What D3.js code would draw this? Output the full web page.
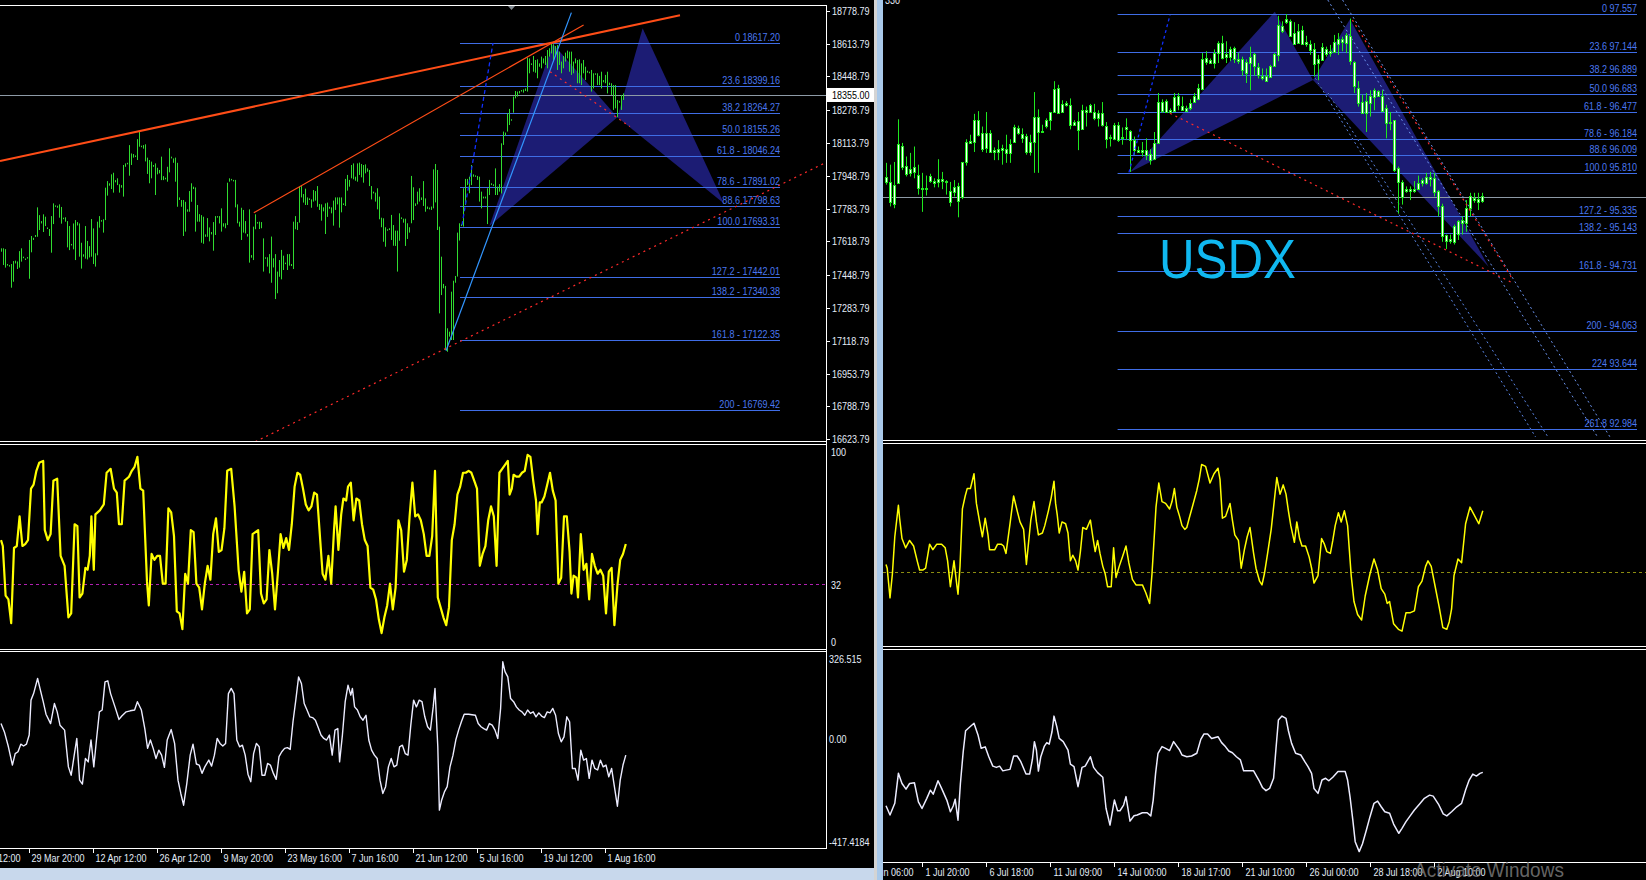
<!DOCTYPE html>
<html><head><meta charset="utf-8">
<script src="https://cdn.jsdelivr.net/npm/d3@7"></script>
<style>
html,body{margin:0;padding:0;background:#000;overflow:hidden;}
svg{display:block;}
text{font-family:"Liberation Sans",Arial,sans-serif;}
</style></head><body>
<svg id="c" width="1646" height="880"></svg>
<script>
// ---------------- LEFT CHART DATA (bar index, prices) ----------------
const leftHigh = [17584,17584,17580,17505,17500,17505,17520,17522,17518,17570,
17584,17542,17533,17540,17626,17646,17637,17651,17790,17751,
17721,17755,17743,17689,17681,17746,17810,17800,17798,17805,
17792,17738,17740,17721,17696,17606,17709,17726,17716,17709,
17612,17554,17696,17621,17595,17731,17684,17559,17718,17746,
17726,17730,17889,17922,17911,17956,17964,17927,17936,17906,
17902,18003,18011,18014,18103,18061,18058,18051,18133,18170,
18100,18103,18107,18040,18028,18020,18003,18011,17989,17978,
18045,17947,17939,17994,18087,18045,18036,18040,18014,17840,
17827,17827,17818,17780,17872,17911,17894,17890,17802,17756,
17751,17743,17654,17736,17689,17666,17716,17746,17746,17746,
17785,17710,17710,17914,17936,17933,17928,17928,17805,17718,
17788,17777,17721,17656,17780,17550,17693,17755,17716,17718,
17716,17634,17539,17539,17555,17643,17534,17555,17467,17525,
17576,17547,17512,17555,17555,17505,17718,17746,17716,17894,
17897,17857,17884,17840,17835,17830,17877,17872,17897,17807,
17805,17790,17810,17814,17793,17790,17824,17840,17840,17840,
17840,17810,17933,17953,17928,18003,18011,17944,18011,18015,
18008,18003,18006,17986,17978,17897,17869,17864,17886,17844,
17738,17735,17690,17680,17685,17752,17701,17673,17673,17760,
17740,17733,17733,17710,17690,17948,17891,17810,17869,17886,
17840,17922,17835,17794,17789,17794,17981,18008,17978,17693,
17542,17405,17395,17182,17165,17366,17421,17445,17663,17710,
17705,17886,17933,17933,17944,18003,17956,17951,17948,17944,
17869,17844,17844,17886,17928,17911,17906,17986,17894,17907,
18112,18171,18166,18263,18285,18233,18347,18375,18372,18375,
18380,18383,18388,18543,18539,18514,18551,18531,18534,18514,
18548,18539,18551,18581,18590,18617,18610,18601,18606,18573,
18523,18551,18568,18578,18573,18573,18523,18539,18531,18534,
18514,18531,18497,18477,18472,18481,18464,18464,18464,18451,
18472,18430,18456,18472,18417,18414,18405,18405,18330,18325,
18355,18363];
const leftLow = [17567,17500,17487,17497,17492,17386,17416,17508,17480,17487,
17517,17535,17527,17533,17431,17564,17626,17641,17642,17676,
17709,17666,17696,17681,17646,17562,17706,17793,17788,17738,
17708,17731,17718,17589,17575,17601,17579,17525,17699,17542,
17482,17542,17532,17528,17538,17542,17505,17492,17549,17688,
17718,17663,17726,17849,17899,17882,17864,17916,17902,17864,
17889,17844,17994,18009,17949,18003,18040,18043,18028,18095,
18095,18085,18021,17958,17911,17936,17994,17852,17956,17961,
17927,17927,17931,17919,17966,18036,18014,17919,17793,17827,
17793,17646,17668,17768,17768,17818,17882,17668,17718,17718,
17612,17607,17642,17642,17619,17654,17572,17651,17741,17709,
17668,17693,17685,17701,17919,17928,17922,17790,17710,17693,
17626,17663,17659,17643,17512,17537,17525,17680,17710,17681,
17685,17467,17534,17492,17458,17411,17488,17329,17358,17441,
17428,17475,17505,17475,17497,17495,17480,17680,17676,17713,
17840,17814,17802,17802,17827,17788,17819,17824,17793,17777,
17723,17770,17656,17742,17783,17760,17698,17777,17805,17688,
17765,17802,17797,17874,17894,17936,17931,17924,17919,17953,
17941,17914,17961,17969,17897,17830,17860,17819,17780,17730,
17690,17617,17592,17673,17676,17626,17597,17596,17467,17622,
17731,17713,17596,17631,17663,17710,17726,17797,17805,17819,
17827,17797,17768,17782,17780,17777,17785,17815,17676,17257,
17349,17383,17073,17064,17140,17123,17123,17411,17442,17623,
17696,17693,17802,17902,17861,17902,17944,17944,17928,17819,
17785,17835,17835,17706,17852,17902,17897,17852,17852,17869,
17860,18104,18149,18171,18204,18226,18266,18338,18347,18363,
18372,18367,18375,18372,18464,18506,18472,18467,18439,18497,
18489,18514,18506,18489,18548,18564,18523,18548,18481,18506,
18464,18489,18523,18539,18472,18456,18464,18514,18414,18414,
18405,18464,18430,18467,18464,18372,18388,18459,18405,18405,
18388,18419,18414,18363,18405,18355,18280,18288,18243,18316,
18280,18330];
const leftPriceTicks = [18778.79,18613.79,18448.79,18278.79,18113.79,17948.79,17783.79,17618.79,17448.79,17283.79,17118.79,16953.79,16788.79,16623.79];
const leftCurrentPrice = 18355.00;
const leftFibPrices = [18617.20,18399.16,18264.27,18155.26,18046.24,17891.02,17798.63,17693.31,17442.01,17340.38,17122.35,16769.42];
const leftFibLabels = ["0 18617.20","23.6 18399.16","38.2 18264.27","50.0 18155.26","61.8 - 18046.24","78.6 - 17891.02","88.6 17798.63","100.0 17693.31","127.2 - 17442.01","138.2 - 17340.38","161.8 -  17122.35","200 - 16769.42"];
const leftFibRange = [229.5, 389.5];
const leftTimeLabels = ["15 Mar 12:00","29 Mar 20:00","12 Apr 12:00","26 Apr 12:00","9 May 20:00","23 May 16:00","7 Jun 16:00","21 Jun 12:00","5 Jul 16:00","19 Jul 12:00","1 Aug 16:00"];
const leftTimeIdx = [-18,14,46,78,110,142,174,206,238,270,302];
// trendlines [[barIdx, price],[barIdx, price]]
const leftOrange1 = [[-0.5,18023],[339.5,18756]];
const leftOrange2 = [[126.4,17763],[291.3,18707]];
const leftRedDot1 = [[127.2,16612],[412.5,18016]];
const leftRedDot2 = [[274.5,18472],[314.5,18196]];
const leftBlueLine = [[222.5,17069],[285.2,18769]];
const leftBlueDash = [[230.5,17701],[246,18616]];
const leftPatternXAB = [[244.2,17696],[276,18611],[308.2,18243]];
const leftPatternBCD = [[308.2,18243],[320.8,18690],[361.5,17810]];
const leftStochLevel = 32;
const leftStoch = [[0,54],[0.9,51],[2.3,26],[3.7,24],[5.1,12],[6.5,50],[7.9,51],[9.3,66],[10.7,51],[12.1,52],[13.5,54],[15,80],[16.3,82],[17.7,89],[19.1,93],[21.1,94],[21.9,59],[23.4,54],[24.8,57],[26.2,84],[28.1,85],[29.8,46],[31.8,41],[33.7,15],[35.1,17],[36.8,62],[38.2,61],[39.3,25],[40.7,27],[42.2,40],[43.3,39],[44.4,46],[45.2,66],[46.4,39],[47.2,67],[49.4,69],[51.4,72],[52.8,88],[54.8,90],[56.5,80],[57.9,78],[59,62],[60.4,62],[61.8,84],[64,86],[65.4,89],[66.8,91],[68.2,96],[69.7,80],[71.1,79],[73,33],[73.9,21],[75.3,47],[76.7,44],[78.1,46],[79.5,46],[80.9,32],[82.3,32],[83.7,70],[85.1,68],[86.5,56],[87.9,18],[89.3,17],[90.7,9],[92.1,37],[93.5,32],[94.9,59],[96.3,58],[97.7,32],[99.1,30],[100.5,19],[101.9,32],[103.3,41],[104.7,34],[106.1,57],[107.5,65],[108.9,48],[110.3,49],[111.7,60],[113.1,89],[115.1,90],[116.8,71],[118.8,39],[120.2,28],[121.6,38],[123,17],[124.4,19],[125.8,57],[127.2,58],[128.6,59],[130,27],[131.4,22],[132.8,24],[134.2,49],[135.6,37],[137,19],[138.4,37],[139.8,57],[141.2,50],[142.6,55],[144,49],[145.4,62],[146.8,81],[148.2,88],[149.6,87],[151,80],[152.4,72],[153.8,69],[155.2,71],[156.6,78],[158,77],[159.4,57],[160.8,37],[162.2,34],[163.7,46],[165.1,32],[166.5,59],[167.3,71],[168.7,49],[170.1,67],[171.2,75],[172.6,74],[173.5,81],[174.9,83],[176.3,64],[177.7,75],[179.1,74],[180.5,62],[181.9,54],[183.3,51],[184.7,30],[186.1,29],[187.5,24],[188.9,14],[190.3,7],[191.7,15],[193.1,21],[194.5,32],[195.9,19],[197.3,30],[198.7,64],[200.1,59],[201.5,38],[202.9,44],[204.3,66],[205.7,83],[207.1,66],[208.5,67],[209.9,64],[211.4,57],[212.8,46],[214.2,46],[215.6,56],[217,89],[218.4,25],[219.8,20],[221.2,15],[222.6,11],[224,20],[225.4,54],[226.8,62],[228.2,77],[229.6,81],[231,88],[232.4,88],[233.8,89],[235.2,88],[236.6,84],[238,80],[239.4,41],[240.8,47],[242.2,51],[243.6,64],[245,71],[246.4,66],[247.8,41],[249.2,88],[250.6,90],[252,92],[253.4,94],[254.3,77],[255.4,80],[256.3,87],[257.7,86],[259.1,86],[260.5,88],[261.9,89],[263.3,97],[264.7,96],[266.1,84],[267.5,74],[268.3,57],[269.4,73],[270.3,73],[271.7,76],[273.1,82],[274.5,88],[275.9,79],[277.3,74],[278.7,32],[280.1,35],[281.5,66],[282.9,66],[284.3,48],[285.2,27],[286.3,36],[287.7,35],[288.5,25],[289.9,57],[291.3,39],[292.7,42],[294.1,24],[295.5,47],[296.9,41],[298.3,37],[299.7,39],[301.1,36],[302.5,17],[303.9,38],[305.3,40],[306.7,11],[308.2,31],[309.6,44],[311,47],[312.4,52]];
const leftCCI = [[0,52],[1.7,20],[3.7,-37],[5.7,-107],[7.1,-63],[8.5,-56],[9.9,-27],[11.3,-34],[12.7,-27],[14.1,8],[15,142],[16.3,167],[18.3,225],[19.7,180],[21.1,136],[22.5,88],[24.8,52],[26.7,129],[28.1,97],[29.5,46],[31.8,27],[33.7,-114],[35.1,-146],[36.5,-75],[37.9,-5],[39.3,-165],[40.7,-180],[42.2,-82],[43.6,-95],[45,-11],[46.4,-114],[47.8,-5],[49.2,97],[50.6,104],[52,212],[53.4,216],[54.8,167],[57,116],[59,68],[60.4,81],[62.6,97],[64.6,101],[66.8,104],[68.2,136],[70.2,104],[71.9,33],[73.3,-43],[74.7,-11],[76.1,-43],[77.5,-82],[78.9,-50],[80.3,-69],[81.7,-116],[83.1,-11],[85.1,29],[86.8,-24],[88.5,-165],[89.9,-216],[91.3,-261],[92.9,-178],[94.6,-69],[96,-27],[97.7,-103],[99.1,-107],[100.5,-139],[101.9,-114],[103.9,-88],[105.3,-111],[106.7,-69],[108.1,-5],[109.5,-24],[110.9,-34],[112.3,-24],[113.7,167],[115.1,187],[116.5,167],[117.9,-11],[119.3,-37],[120.7,-31],[122.1,-69],[123.5,-142],[124.9,-171],[126.3,-63],[127.7,-24],[129.1,-37],[130.5,-146],[131.9,-146],[133.3,-101],[134.7,-107],[136.2,-139],[137.6,-162],[139,-75],[140.4,-56],[141.8,-43],[143.2,-40],[144.6,-47],[146,59],[147.4,142],[148.8,231],[150.2,206],[151.6,129],[153,104],[154.4,78],[155.8,75],[157.2,65],[158.6,37],[160,8],[161.4,-5],[162.8,-11],[164.2,8],[165.6,-69],[167,27],[168.4,33],[169.3,-95],[170.7,8],[172.1,136],[173.5,199],[174.9,161],[175.7,187],[176.8,116],[178.2,104],[179.6,78],[181,65],[182.5,84],[183.9,-11],[185.3,-50],[186.7,-69],[188.1,-82],[189.5,-165],[190.9,-216],[192.3,-190],[193.7,-114],[195.1,-82],[196.5,-114],[197.9,-107],[199.3,-37],[200.7,-31],[202.1,-63],[203.5,-69],[204.9,46],[206.3,142],[207.7,116],[209.1,142],[210.5,136],[211.9,78],[213.3,40],[214.7,27],[216.1,116],[217,187],[218.4,-37],[219.2,-280],[220.3,-242],[221.7,-210],[223.1,-190],[224.5,-114],[226,-69],[227.4,-11],[228.8,27],[230.2,59],[231.6,88],[233.8,88],[237.2,84],[238.6,52],[240,40],[241.4,33],[242.8,27],[244.2,52],[245.6,46],[247,27],[248.4,-5],[249.8,110],[250.9,289],[252,251],[253.4,231],[254.8,148],[256.3,136],[257.7,116],[259.1,104],[260.5,97],[261.9,84],[263.3,104],[264.7,91],[266.1,97],[267.5,78],[268.9,93],[270.3,81],[271.7,75],[273.1,97],[274.5,93],[275.9,110],[277.3,84],[278.7,14],[280.1,-18],[281.5,1],[282.9,78],[284.3,59],[285.7,-120],[287.1,-120],[288.5,-165],[289.9,-50],[291.3,-88],[292.7,-82],[294.1,-158],[295.5,-88],[296.9,-120],[298.3,-126],[299.7,-88],[301.1,-114],[302.5,-107],[303.9,-152],[305.3,-120],[306.7,-190],[308.2,-265],[309.6,-165],[311,-107],[312.4,-69]];
const leftCCIMax = 326.515, leftCCIMin = -417.4184;

// ---------------- RIGHT CHART DATA (USDX) ----------------
const rHigh = [95.92,95.90,95.93,96.40,96.14,95.99,96.03,96.10,95.90,95.81,95.78,95.80,95.75,95.96,95.82,95.73,95.71,95.73,95.70,95.93,
96.18,96.23,96.46,96.49,96.32,96.48,96.28,96.09,96.17,96.12,96.23,96.18,96.34,96.33,96.30,96.24,96.23,96.70,96.51,96.34,
96.41,96.48,96.82,96.78,96.61,96.60,96.63,96.39,96.48,96.56,96.54,96.57,96.57,96.50,96.59,96.37,96.23,96.36,96.37,96.31,
96.41,96.28,96.21,96.10,96.15,96.19,96.07,96.26,96.69,96.62,96.62,96.52,96.69,96.69,96.65,96.55,96.62,96.69,96.79,97.13,
97.15,97.07,97.17,97.26,97.32,97.26,97.20,97.20,97.13,97.09,97.06,97.20,97.13,97.02,96.96,96.96,97.00,97.13,97.54,97.48,
97.56,97.50,97.47,97.45,97.43,97.32,97.27,97.24,97.11,97.24,97.20,97.22,97.33,97.35,97.31,97.35,97.51,97.04,96.82,96.67,
96.69,96.72,96.74,96.72,96.72,96.56,96.48,96.39,95.88,95.73,95.66,95.66,95.72,95.78,95.75,95.81,95.82,95.81,95.62,95.47,
95.13,95.13,95.24,95.29,95.33,95.51,95.59,95.59,95.59,95.59];
const rLow = [95.68,95.44,95.42,95.70,95.84,95.77,95.77,95.75,95.57,95.38,95.56,95.70,95.65,95.65,95.63,95.57,95.44,95.55,95.32,95.52,
95.89,96.14,96.04,96.21,96.04,96.03,96.03,95.95,95.95,95.90,95.92,95.92,96.14,96.23,96.14,96.01,96.00,95.81,95.81,96.25,
96.30,96.28,96.50,96.47,96.47,96.54,96.29,96.33,96.06,96.32,96.32,96.47,96.39,96.32,96.32,96.08,96.10,96.17,96.15,96.12,
96.17,95.82,96.01,96.03,95.99,95.95,95.90,95.95,96.14,96.47,96.47,96.47,96.48,96.50,96.50,96.50,96.50,96.58,96.61,96.72,
97.00,97.01,96.96,97.02,97.06,97.02,97.04,97.02,97.01,96.88,96.80,96.72,96.88,96.85,96.83,96.82,96.87,96.98,97.04,97.35,
97.45,97.31,97.22,97.23,97.22,97.20,97.11,96.87,96.83,97.05,97.09,97.09,97.13,97.11,97.15,97.13,97.00,96.69,96.54,96.47,
96.26,96.43,96.50,96.65,96.52,96.19,96.28,95.82,95.36,95.46,95.59,95.51,95.59,95.62,95.66,95.68,95.66,95.55,95.33,95.05,
94.97,95.03,95.02,95.07,95.13,95.16,95.33,95.48,95.40,95.48];
const rOpen = [95.76,95.71,95.68,96.13,96.11,95.88,95.85,95.87,95.79,95.64,95.64,95.77,95.72,95.74,95.74,95.72,95.61,95.65,95.66,95.93,
96.15,96.16,96.39,96.39,96.25,96.25,96.25,96.06,96.07,96.08,96.07,96.13,96.32,96.30,96.24,96.22,96.15,96.42,96.43,96.27,
96.39,96.48,96.73,96.75,96.57,96.58,96.56,96.37,96.38,96.50,96.50,96.56,96.48,96.47,96.47,96.33,96.21,96.34,96.34,96.21,
96.31,96.27,96.17,96.06,96.06,96.06,96.02,96.14,96.59,96.59,96.60,96.50,96.65,96.66,96.55,96.53,96.58,96.66,96.74,97.06,
97.08,97.05,97.13,97.24,97.24,97.12,97.18,97.19,97.06,97.06,97.03,97.09,97.12,96.98,96.88,96.88,96.99,97.12,97.44,97.43,
97.50,97.48,97.35,97.37,97.38,97.25,97.23,97.18,97.06,97.20,97.18,97.15,97.25,97.29,97.29,97.33,97.32,97.03,96.75,96.59,
96.60,96.66,96.72,96.71,96.66,96.52,96.37,96.39,95.86,95.71,95.63,95.63,95.63,95.70,95.73,95.76,95.76,95.75,95.61,95.44,
95.12,95.08,95.22,95.28,95.29,95.42,95.55,95.53,95.52,95.55];
const rClose = [95.71,95.49,95.47,95.70,95.88,95.79,95.81,95.81,95.65,95.63,95.63,95.72,95.70,95.71,95.72,95.71,95.49,95.59,95.50,95.54,
95.93,96.14,96.15,96.23,96.07,96.08,96.04,96.04,96.04,96.06,96.03,96.03,96.15,96.25,96.20,96.04,96.04,96.15,96.26,96.26,
96.32,96.39,96.48,96.48,96.48,96.56,96.34,96.34,96.28,96.29,96.48,96.48,96.41,96.41,96.34,96.19,96.20,96.19,96.17,96.20,
96.29,96.17,96.06,96.04,96.04,96.00,95.95,95.96,96.14,96.49,96.48,96.48,96.50,96.56,96.51,96.50,96.52,96.59,96.62,96.73,
97.04,97.02,97.02,97.13,97.08,97.09,97.09,97.07,97.04,96.94,96.91,97.02,96.99,96.89,96.86,96.83,96.87,96.99,97.11,97.37,
97.47,97.32,97.23,97.24,97.23,97.23,97.16,97.02,97.02,97.06,97.12,97.13,97.14,97.24,97.26,97.24,97.04,96.77,96.58,96.47,
96.47,96.58,96.64,96.66,96.50,96.36,96.36,95.84,95.71,95.55,95.61,95.61,95.61,95.63,95.70,95.69,95.74,95.60,95.44,95.11,
95.05,95.06,95.04,95.14,95.26,95.26,95.42,95.51,95.49,95.49];
const rCurrentPrice = 95.547;
const rFibPrices = [97.557,97.144,96.889,96.683,96.477,96.184,96.009,95.810,95.335,95.143,94.731,94.063,93.644,92.984];
const rFibLabels = ["0 97.557","23.6 97.144","38.2 96.889","50.0 96.683","61.8 - 96.477","78.6 - 96.184","88.6 96.009","100.0 95.810","127.2 - 95.335","138.2 - 95.143","161.8 -  94.731","200 - 94.063","224 93.644","261.8 92.984"];
const rFibRange = [57.9, 187.75];
const rTimeLabels = ["30 Jun 06:00","1 Jul 20:00","6 Jul 18:00","11 Jul 09:00","14 Jul 00:00","18 Jul 17:00","21 Jul 10:00","26 Jul 00:00","28 Jul 18:00","2 Aug 10:00"];
const rTimeIdx = [-7,9,25,41,57,73,89,105,121,137];
const rPatternXAB = [[60.95,95.816],[97.2,97.586],[106.75,96.833]];
const rPatternBCD = [[106.75,96.833],[116,97.502],[150.65,94.776]];
const rRedDot1 = [[71,96.466],[156.85,94.593]];
const rRedDot2 = [[116.6,97.494],[156.75,94.629]];
const rBlueDash = [[60.75,95.816],[71,97.549]];
const rChannel = [[[110.45,97.715],[177.9,92.899]],[[114.15,97.715],[181,92.899]],[[107.35,96.852],[162.4,92.899]],[[110.5,96.690],[165.5,92.899]]];
const rStochLevel = 32;
const rStoch = [[0,36],[0.3,34],[1,18],[1.6,31],[2.2,51],[3.1,68],[3.4,61],[4,50],[4.9,45],[5.9,49],[6.9,46],[7.8,38],[8.4,33],[9.2,33],[9.9,34],[10.9,47],[11.7,44],[12.7,47],[13.9,47],[14.8,45],[15.4,38],[16.1,24],[17,38],[17.7,25],[18,20],[18.5,35],[19.1,66],[19.8,73],[20.3,77],[21.1,77],[22,85],[22.6,69],[23.5,58],[24.1,51],[24.8,61],[25.5,52],[25.9,44],[27.2,44],[27.9,47],[28.8,47],[29.4,46],[30,42],[31,58],[31.9,73],[32.8,65],[33.5,59],[34.4,55],[35.1,36],[36.2,60],[37,70],[37.6,59],[38.1,52],[39.1,53],[39.7,57],[40.6,65],[41.3,72],[42,81],[42.4,69],[42.8,63],[43.3,53],[44,59],[44.9,58],[45.5,53],[46.1,38],[46.7,41],[47.4,38],[48,33],[48.6,43],[49.2,56],[50.1,55],[51.1,60],[51.7,51],[52.3,43],[52.9,49],[53.5,42],[54.2,35],[54.8,31],[55.4,24],[56.3,24],[56.9,45],[57.5,29],[58.3,35],[59.1,40],[60,46],[60.7,37],[61.6,28],[62.5,25],[64.1,25],[64.9,21],[65.9,15],[66.5,31],[67.2,56],[67.5,67],[68.2,80],[69,70],[69.9,69],[70.9,66],[71.5,70],[72.1,77],[72.7,67],[73.4,62],[74,57],[74.7,55],[75.2,56],[75.8,61],[76.7,68],[77.7,76],[78.3,82],[78.9,90],[79.9,89],[81,80],[82,85],[83,88],[83.5,82],[84.1,61],[84.9,62],[86,69],[86.6,60],[87.2,52],[88.1,49],[88.8,34],[89.6,44],[90.3,51],[91,56],[91.9,42],[92.5,34],[93.4,27],[94,25],[94.6,31],[95.4,42],[96.3,55],[96.9,67],[97.7,83],[98.5,74],[99.3,79],[100,74],[100.6,65],[101.2,57],[102.1,48],[102.7,59],[103.4,50],[104,46],[104.9,46],[105.8,40],[106.4,34],[107,26],[108,30],[108.9,50],[109.6,47],[110.2,43],[111.1,42],[111.7,49],[112.3,57],[113.1,64],[113.8,59],[114.6,65],[115.4,57],[115.8,45],[116.3,30],[117,16],[117.9,9],[118.9,6],[119.8,19],[121,31],[122,39],[122.9,33],[123.8,23],[124.7,20],[125.3,15],[125.9,16],[126.9,4],[128.1,1],[129,0],[130,10],[131.1,10],[132.1,11],[133.1,24],[134,27],[134.9,35],[135.5,38],[136.3,35],[137.3,24],[138.3,13],[139.2,2],[140.2,1],[140.8,5],[141.4,12],[142,30],[143,39],[143.9,37],[144.9,58],[146,67],[147,63],[148.2,58],[149.2,65]];
const rCCI = [[0,-203],[1,-240],[2.2,-193],[3.1,-72],[4,-113],[5,-136],[5.9,-113],[7.1,-110],[8.1,-187],[9,-214],[10.2,-173],[11.1,-140],[11.8,-156],[13,-102],[13.9,-133],[15.2,-180],[16.1,-227],[16.8,-204],[17.3,-177],[18,-261],[18.6,-113],[19.3,15],[19.9,100],[20.8,113],[22,130],[23,83],[23.8,29],[24.8,35],[25.7,-5],[26.7,-43],[27.6,-48],[28.4,-43],[29.2,-62],[30,-59],[31,-56],[31.9,-2],[32.8,-2],[33.7,-25],[35,-75],[35.9,-75],[36.6,-16],[37.1,56],[37.6,22],[38.1,-63],[38.7,-5],[39.6,38],[40.2,52],[40.8,46],[41.5,96],[42,159],[42.7,116],[43.3,69],[44.3,56],[45.5,22],[46.1,-35],[47,-45],[48,-126],[49,-48],[49.8,-43],[51.1,-5],[51.9,-48],[52.9,-69],[54.2,-88],[55,-213],[56,-281],[57.1,-180],[57.9,-223],[58.5,-223],[59.4,-200],[60,-166],[61,-265],[62,-243],[62.8,-240],[64.1,-231],[65.3,-231],[66.2,-244],[66.8,-180],[67.4,-72],[68,9],[69,36],[69.9,29],[70.9,20],[71.9,56],[72.7,38],[73.4,22],[74,2],[75.2,-5],[76.4,-2],[77.7,9],[78.7,65],[79.5,87],[80.4,87],[81.4,69],[82.3,73],[83,76],[83.9,52],[84.9,35],[85.7,18],[86.6,11],[87.6,-5],[88.6,-18],[89.4,-62],[90.7,-62],[91.9,-62],[93.2,-99],[94.1,-129],[95,-142],[95.9,-133],[96.9,-92],[97.5,29],[98.1,143],[99,159],[100,150],[100.6,100],[101.4,49],[102.4,9],[103.7,2],[104.7,-25],[105.5,-45],[106.4,-72],[107,-133],[108,-153],[109,-99],[109.9,-92],[110.7,-102],[111.7,-88],[113,-65],[114.8,-65],[115.4,-99],[116,-166],[116.7,-260],[117.3,-348],[118.3,-388],[119.1,-357],[120.1,-301],[121,-247],[122,-193],[122.9,-184],[123.8,-207],[124.7,-227],[125.9,-233],[126.9,-277],[128.2,-314],[129,-294],[130,-267],[130.9,-247],[132.1,-220],[133.4,-196],[134.6,-173],[135.9,-160],[136.8,-164],[138.1,-196],[139.3,-236],[140.2,-244],[141.4,-227],[142.7,-207],[143.9,-193],[144.9,-139],[145.8,-99],[146.7,-75],[147.6,-83],[148.5,-72],[149.2,-68]];

// ---------------- DRAWING ----------------
const svg = d3.select('#c');
svg.append('rect').attr('width',1646).attr('height',880).attr('fill','#000');
const defs = svg.append('defs');
function clip(id,x,y,w,h){defs.append('clipPath').attr('id',id).append('rect').attr('x',x).attr('y',y).attr('width',w).attr('height',h);}
clip('lMain',0,6,826,435.5); clip('lP2',0,445.5,826,203.5); clip('lP3',0,652,826,196);
clip('lAll',0,0,875,880);
clip('rMain',883,0,763,440); clip('rP2',883,444,763,202); clip('rP3',883,649.5,763,212);
clip('rAll',883,0,763,880);

const LABEL='#e4ecf8';
const NARROW=0.82;
function T(g,x,y,str,fill,anchor,size){
  return g.append('text').attr('transform',`translate(${x},${y}) scale(${NARROW},1)`)
    .attr('font-size',size||11).attr('fill',fill||LABEL).attr('text-anchor',anchor||'start').text(str);
}
const lx = d3.scaleLinear().domain([0,412.5]).range([1,826]);
const ly = d3.scaleLinear().domain([16623.79,18778.79]).range([439.3,10.7]);
const lySt = d3.scaleLinear().domain([0,100]).range([647,449]);
const lyCCI = d3.scaleLinear().domain([leftCCIMin,leftCCIMax]).range([846,652]);
const rx = d3.scaleLinear().domain([0,190]).range([886,1646]);
const ry = d3.scaleLinear().domain([92.984,97.557]).range([429.3,14.3]);
const rySt = d3.scaleLinear().domain([-8,100]).range([646,446]);
const ryCCI = d3.scaleLinear().domain([-430,430]).range([862,649]);

function seg(g,pts,sx,sy,color,w,dash){
  g.append('line').attr('x1',sx(pts[0][0])).attr('y1',sy(pts[0][1])).attr('x2',sx(pts[1][0])).attr('y2',sy(pts[1][1]))
   .attr('stroke',color).attr('stroke-width',w).attr('stroke-dasharray',dash||null);
}
function tri(g,pts,sx,sy){
  g.append('path').attr('d',d3.line().x(d=>sx(d[0])).y(d=>sy(d[1]))(pts)+'Z').attr('fill','#1c1c74');
}

// ===== LEFT MAIN =====
const lm = svg.append('g').attr('clip-path','url(#lMain)');
tri(lm,leftPatternXAB,lx,ly); tri(lm,leftPatternBCD,lx,ly);
leftFibPrices.forEach((p,i)=>{
  const y=Math.round(ly(p))+0.5;
  lm.append('line').attr('x1',lx(leftFibRange[0])).attr('x2',lx(leftFibRange[1])).attr('y1',y).attr('y2',y).attr('stroke','#3f6de6').attr('stroke-width',1.2);
  T(lm,lx(leftFibRange[1]),y-3,leftFibLabels[i],'#4a78f0','end');
});
lm.append('line').attr('x1',0).attr('x2',826).attr('y1',Math.round(ly(leftCurrentPrice))+0.5).attr('y2',Math.round(ly(leftCurrentPrice))+0.5).attr('stroke','#8d9aa6').attr('stroke-width',1);
lm.selectAll('line.bar').data(leftHigh).enter().append('line').attr('class','bar')
  .attr('x1',(d,i)=>Math.round(lx(i))+0.5).attr('x2',(d,i)=>Math.round(lx(i))+0.5)
  .attr('y1',d=>ly(d)).attr('y2',(d,i)=>Math.max(ly(leftLow[i]),ly(d)+1.5))
  .attr('stroke','#30dc30').attr('stroke-width',1);
seg(lm,leftOrange1,lx,ly,'#ff4d17',2);
seg(lm,leftOrange2,lx,ly,'#ff4d17',1.2);
seg(lm,leftRedDot1,lx,ly,'#ff2a2a',1.2,'2,4');
seg(lm,leftRedDot2,lx,ly,'#ff2a2a',1.2,'2,4');
seg(lm,leftBlueLine,lx,ly,'#3296ff',1.2);
seg(lm,leftBlueDash,lx,ly,'#1030ff',1.3,'4,3');
svg.append('path').attr('d','M507,5 L516,5 L511.5,10 Z').attr('fill','#808890');

// ===== LEFT PANELS =====
const lp2 = svg.append('g').attr('clip-path','url(#lP2)');
lp2.append('line').attr('x1',0).attr('x2',826).attr('y1',Math.round(lySt(leftStochLevel))+0.5).attr('y2',Math.round(lySt(leftStochLevel))+0.5).attr('stroke','#b020b0').attr('stroke-dasharray','3,3');
lp2.append('path').attr('d',d3.line().x(d=>lx(d[0])).y(d=>lySt(d[1]))(leftStoch)).attr('fill','none').attr('stroke','#ffff00').attr('stroke-width',2.2).attr('stroke-linejoin','round');
const lp3 = svg.append('g').attr('clip-path','url(#lP3)');
lp3.append('path').attr('d',d3.line().x(d=>lx(d[0])).y(d=>lyCCI(d[1]))(leftCCI)).attr('fill','none').attr('stroke','#ececff').attr('stroke-width',1.4).attr('stroke-linejoin','round');

const lf = svg.append('g').attr('clip-path','url(#lAll)');
[5.5,441.5,444.5,649.5,651.5,848.5].forEach(y=>lf.append('line').attr('x1',0).attr('x2',826.5).attr('y1',y).attr('y2',y).attr('stroke','#fff').attr('stroke-width',1));
lf.append('line').attr('x1',826.5).attr('x2',826.5).attr('y1',5).attr('y2',849).attr('stroke','#fff');
leftPriceTicks.forEach(p=>{
  lf.append('line').attr('x1',826.5).attr('x2',830).attr('y1',Math.round(ly(p))+0.5).attr('y2',Math.round(ly(p))+0.5).attr('stroke','#fff');
  T(lf,832,ly(p)+4,p.toFixed(2));
});
lf.append('rect').attr('x',827).attr('y',ly(leftCurrentPrice)-7).attr('width',47).attr('height',14).attr('fill','#fff');
T(lf,832,ly(leftCurrentPrice)+4,leftCurrentPrice.toFixed(2),'#000');
T(lf,831,lySt(100)+7,'100');
T(lf,831,lySt(leftStochLevel)+5,String(leftStochLevel));
T(lf,831,lySt(0)-1,'0');
T(lf,829,lyCCI(leftCCIMax)+11,String(leftCCIMax));
T(lf,829,lyCCI(0)+6,'0.00');
T(lf,829,lyCCI(leftCCIMin),String(leftCCIMin));
leftTimeIdx.forEach((i,j)=>{
  const x=Math.round(lx(i))+0.5;
  lf.append('line').attr('x1',x).attr('x2',x).attr('y1',849).attr('y2',853).attr('stroke','#fff');
  T(lf,x+2,862,leftTimeLabels[j]);
});
svg.append('rect').attr('x',0).attr('y',868).attr('width',875).attr('height',12).attr('fill','#c8d8ec');
svg.append('rect').attr('x',874).attr('y',0).attr('width',3).attr('height',880).attr('fill','#d4d4d4');
svg.append('rect').attr('x',877).attr('y',0).attr('width',6).attr('height',880).attr('fill','#a9c9ea');

// ===== RIGHT MAIN =====
const rm = svg.append('g').attr('clip-path','url(#rMain)');
tri(rm,rPatternXAB,rx,ry); tri(rm,rPatternBCD,rx,ry);
rFibPrices.forEach((p,i)=>{
  const y=Math.round(ry(p))+0.5;
  rm.append('line').attr('x1',rx(rFibRange[0])).attr('x2',rx(rFibRange[1])).attr('y1',y).attr('y2',y).attr('stroke','#3f6de6').attr('stroke-width',1.2);
  T(rm,rx(rFibRange[1]),y-3,rFibLabels[i],'#4a78f0','end');
});
rm.append('line').attr('x1',883).attr('x2',1646).attr('y1',Math.round(ry(rCurrentPrice))+0.5).attr('y2',Math.round(ry(rCurrentPrice))+0.5).attr('stroke','#8d9aa6');
rm.append('text').attr('transform','translate(1159,278) scale(0.88,1)').attr('font-family','"Open Sans",sans-serif').attr('font-size',56).attr('fill','#10b8f0').text('USDX');
rChannel.slice(2).forEach(c=>seg(rm,c,rx,ry,'#000',1.2,'2,3'));
rChannel.forEach((c,j)=>seg(rm,c,rx,ry,j<2?'#6b93ee':'#5b86e6',1,'2,3'));
T(rm,885,4,'330');
const cg = rm.append('g');
rHigh.forEach((h,k)=>{
  const cx=Math.round(rx(k));
  cg.append('line').attr('x1',cx+0.5).attr('x2',cx+0.5).attr('y1',ry(h)).attr('y2',ry(rLow[k])).attr('stroke','#1ee81e');
  const t=ry(Math.max(rOpen[k],rClose[k])), b=ry(Math.min(rOpen[k],rClose[k]));
  cg.append('rect').attr('x',cx-0.5).attr('y',Math.round(t)+0.5).attr('width',2).attr('height',Math.max(1,Math.round(b-t)))
    .attr('fill','#ffffff').attr('stroke','#1ee81e').attr('stroke-width',1);
});
seg(rm,rRedDot1,rx,ry,'#ff2a2a',1.2,'2,4');
seg(rm,rRedDot2,rx,ry,'#ff2a2a',1.2,'2,4');
seg(rm,rBlueDash,rx,ry,'#1030ff',1.3,'3,3');

// ===== RIGHT PANELS =====
const rp2 = svg.append('g').attr('clip-path','url(#rP2)');
rp2.append('line').attr('x1',883).attr('x2',1646).attr('y1',Math.round(rySt(rStochLevel))+0.5).attr('y2',Math.round(rySt(rStochLevel))+0.5).attr('stroke','#8c8c10').attr('stroke-dasharray','3,3');
rp2.append('path').attr('d',d3.line().x(d=>rx(d[0])).y(d=>rySt(d[1]))(rStoch)).attr('fill','none').attr('stroke','#ffff00').attr('stroke-width',1.5).attr('stroke-linejoin','round');
const rp3 = svg.append('g').attr('clip-path','url(#rP3)');
rp3.append('path').attr('d',d3.line().x(d=>rx(d[0])).y(d=>ryCCI(d[1]))(rCCI)).attr('fill','none').attr('stroke','#ececff').attr('stroke-width',1.5).attr('stroke-linejoin','round');

const rf = svg.append('g').attr('clip-path','url(#rAll)');
[440.5,443.5,646.5,649.5,862.5].forEach(y=>rf.append('line').attr('x1',883).attr('x2',1646).attr('y1',y).attr('y2',y).attr('stroke','#fff'));
rTimeIdx.forEach((k,j)=>{
  const x=Math.round(rx(k))+0.5;
  rf.append('line').attr('x1',x).attr('x2',x).attr('y1',863).attr('y2',867).attr('stroke','#fff');
  T(rf,x+3,876,rTimeLabels[j]);
});
svg.append('text').attr('transform','translate(1414,877) scale(0.95,1)').attr('font-family','"Open Sans",sans-serif').attr('font-size',20).attr('fill','#808080').attr('fill-opacity',0.8).text('Activate Windows');
</script>
</body></html>
